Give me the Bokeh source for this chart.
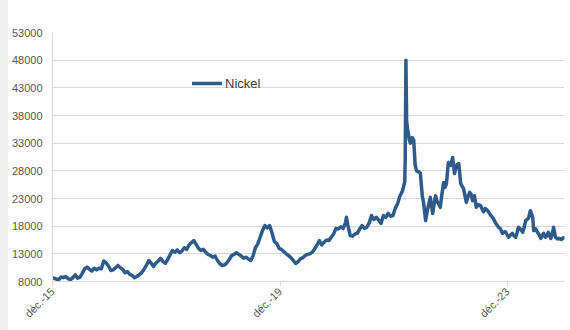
from bokeh.plotting import figure
from bokeh.models import FixedTicker, Legend, LegendItem, Spacer
from bokeh.layouts import row
from bokeh.embed import file_html
from bokeh.resources import INLINE
import math

# months since 1 Dec 2015
months = [0.7, 1.0, 1.5, 2.0, 2.5, 3.0, 3.5, 4.0, 4.5, 5.0, 5.5, 6.0, 6.5, 7.0, 7.5, 8.0, 8.5, 9.0, 9.5,
          10.0, 10.5, 11.0, 11.5, 12.0, 12.5, 13.0, 13.5, 14.0, 14.5, 15.0, 15.5, 16.0, 16.5, 17.0, 17.5,
          18.0, 18.5, 19.0, 19.5, 20.0, 20.5, 21.0, 21.5, 22.0, 22.5, 23.0, 23.5, 24.0, 24.5, 25.0, 25.5,
          26.0, 26.5, 27.0, 27.5, 28.0, 28.5, 29.0, 29.5, 30.0, 30.5, 31.0, 31.5, 32.0, 32.5, 33.0, 33.5,
          34.0, 34.5, 35.0, 35.5, 36.0, 36.5, 37.0, 37.5, 38.0, 38.5, 39.0, 39.5, 40.0, 40.5, 41.0, 41.5,
          42.0, 42.5, 43.0, 43.5, 44.0, 44.5, 45.0, 45.5, 46.0, 46.5, 47.0, 47.5, 48.0, 48.5, 49.0, 49.5,
          50.0, 50.5, 51.0, 51.5, 52.0, 52.5, 53.0, 53.5, 54.0, 54.5, 55.0, 55.5, 56.0, 56.5, 57.0, 57.5,
          58.0, 58.5, 59.0, 59.5, 60.0, 60.5, 61.0, 61.5, 62.0, 62.5, 62.7, 63.0, 63.5, 64.0, 64.5, 65.0,
          65.5, 66.0, 66.5, 67.0, 67.5, 68.0, 68.5, 69.0, 69.5, 70.0, 70.5, 71.0, 71.5, 72.0, 72.5, 73.0,
          73.5, 74.0, 74.5, 75.0, 75.1, 75.25, 75.4, 75.6, 76.0, 76.2, 76.6, 76.9, 77.2, 77.5, 78.0, 78.3,
          78.7, 79.0, 79.4, 79.7, 80.0, 80.4, 80.9, 81.2, 81.5, 81.8, 82.1, 82.5, 82.8, 83.2, 83.5, 83.8,
          84.2, 84.7, 85.1, 85.5, 85.9, 86.4, 86.8, 87.4, 88.0, 88.4, 88.7, 89.0, 89.3, 89.7, 90.1, 90.5,
          91.0, 91.6, 92.0, 92.5, 93.1, 93.6, 94.2, 94.8, 95.2, 95.6, 96.0, 96.3, 96.9, 97.3, 97.7, 98.0,
          98.4, 98.7, 99.0, 99.5, 99.9, 100.2, 100.5, 101.1, 101.5, 102.0, 102.2, 102.6, 103.0, 103.4,
          103.7, 104.0, 104.3, 104.7, 105.0, 105.3, 105.8, 106.1, 106.4, 106.8, 107.2, 107.5, 108.0, 108.5]

nickel = [8700, 8600, 8450, 8300, 8800, 8700, 8900, 8500, 8300, 8700, 9200, 8600, 8800, 9500, 10300, 10600, 10200, 9900, 10400,
          10100, 10400, 10300, 11700, 11400, 10800, 10000, 10100, 10500, 10900, 10500, 10200, 9600, 9800, 9300, 9100,
          8700, 8900, 9200, 9600, 10200, 10900, 11800, 11300, 10700, 11300, 11700, 12200, 11600, 11300, 12000, 12800,
          13600, 13300, 13700, 13200, 13500, 14100, 13800, 14600, 15000, 15400, 14700, 14000, 13600, 13800, 13300, 12900,
          12700, 12400, 12600, 11800, 11200, 10900, 11000, 11400, 12000, 12700, 12900, 13200, 12900, 12600, 12200, 12400,
          12100, 11800, 12600, 14100, 14800, 16000, 17200, 18100, 17700, 18100, 16800, 15200, 14900, 14000, 13800, 13400,
          13000, 12700, 12300, 11800, 11250, 11600, 12100, 12300, 12700, 12900, 13000, 13300, 13900, 14600, 15400, 14600,
          15100, 15500, 15400, 16000, 16600, 17600, 17500, 17900, 17600, 18600, 19600, 18200, 16300, 16200, 16600, 16700,
          17500, 18100, 17600, 17800, 18600, 19900, 19200, 19600, 19100, 18500, 19900, 19600, 20300, 19800, 19900, 21200,
          22100, 23500, 24300, 26000, 30000, 48000, 37000, 35500, 33500, 33000, 34000, 33500, 29000, 28000, 27800, 27600,
          23500, 22100, 19000, 20500, 21700, 23200, 20300, 22000, 23500, 22500, 22100, 21400, 23500, 25900, 25000, 25700,
          29500, 29000, 30400, 27500, 29000, 29300, 25700, 24800, 22300, 23500, 24100, 23800, 22600, 23500, 21400, 21900,
          21700, 20600, 21200, 20800, 20000, 19500, 18500, 17800, 17500, 16700, 17000, 16900, 16000, 16400, 16700, 16300,
          16000, 16800, 17800, 17400, 16900, 17800, 19000, 19400, 20800, 19600, 17200, 17500, 16900, 16400,
          15800, 16200, 16700, 16000, 16300, 16900, 15800, 16500, 17800, 16000, 15700, 15800, 15600, 15900]

tick_months = [0.7, 48.7, 96.7]
tick_labels = ["déc.-15", "déc.-19", "déc.-23"]
y_ticks = [8000, 13000, 18000, 23000, 28000, 33000, 38000, 43000, 48000, 53000]

FONT = "Liberation Sans"
LINE_COLOR = "#2f5a8c"
GRID = "#d9d9d9"

p = figure(width=562, height=330, output_backend="svg", toolbar_location=None,
           x_range=(0.7, 108.7), y_range=(8000, 53000),
           min_border_left=44, min_border_right=6, min_border_top=32, min_border_bottom=49)
p.outline_line_color = None
p.background_fill_color = "white"
p.border_fill_color = "white"

r = p.line(months, nickel, line_color=LINE_COLOR, line_width=3.5, line_join="round", line_cap="round")

# x axis
p.xaxis.ticker = FixedTicker(ticks=tick_months)
p.xaxis.major_label_overrides = {t: l for t, l in zip(tick_months, tick_labels)}
p.xaxis.major_label_orientation = math.pi / 4
p.xaxis.major_label_text_font = FONT
p.xaxis.major_label_text_font_size = "11px"
p.xaxis.major_label_text_color = "#595959"
p.xaxis.axis_line_color = GRID
p.xaxis.axis_line_width = 1
p.xaxis.major_tick_line_color = GRID
p.xaxis.major_tick_out = 4
p.xaxis.major_tick_in = 0
p.xaxis.minor_tick_line_color = None
p.xaxis.major_label_standoff = 4

# y axis
p.yaxis.ticker = FixedTicker(ticks=y_ticks)
p.yaxis.major_label_text_font = FONT
p.yaxis.major_label_text_font_size = "11px"
p.yaxis.major_label_text_color = "#595959"
p.yaxis.axis_line_color = GRID
p.yaxis.major_tick_line_color = None
p.yaxis.minor_tick_line_color = None
p.yaxis.major_tick_out = 0
p.yaxis.major_label_standoff = 10

p.xgrid.grid_line_color = None
p.ygrid.ticker = FixedTicker(ticks=y_ticks)
p.ygrid.grid_line_color = GRID
p.ygrid.grid_line_width = 1

legend = Legend(items=[LegendItem(label="Nickel", renderers=[r])],
                location=(140, 188), orientation="vertical",
                label_text_font=FONT, label_text_font_size="13px", label_text_color="#404040",
                glyph_width=30, label_standoff=3, padding=0, margin=0,
                border_line_color=None, background_fill_alpha=0)
p.add_layout(legend)

strip = Spacer(width=8, height=330, styles={"background-color": "#f0f0f0"})
layout = row(strip, p, spacing=0)

open("out.html", "w").write(file_html(layout, INLINE))
